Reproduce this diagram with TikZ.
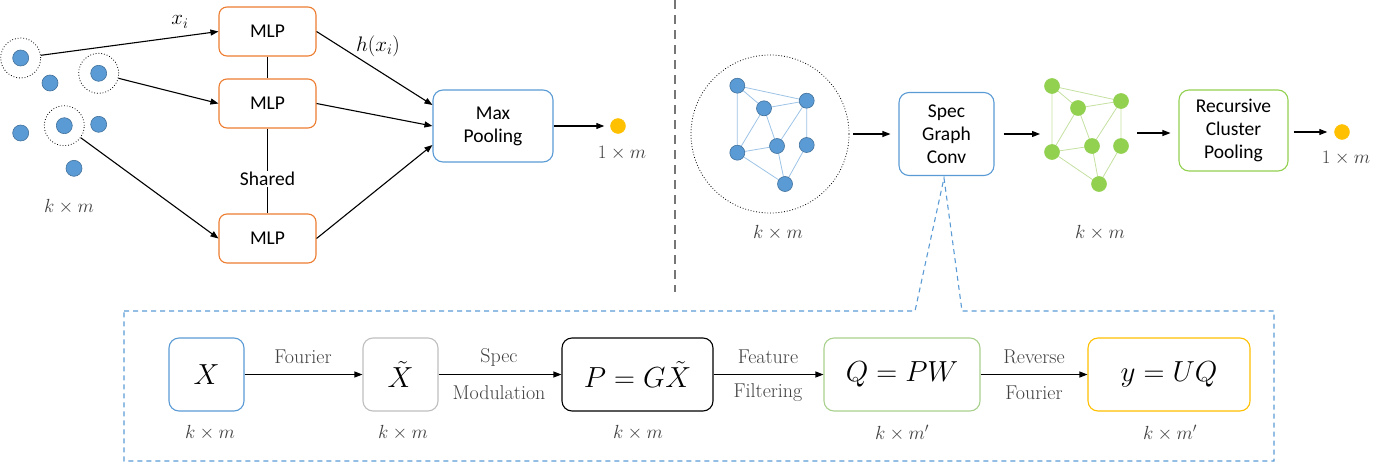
\RequirePackage{fix-cm}
\documentclass[tikz,border=0pt]{standalone}
\usepackage{fontspec}
\setsansfont{Carlito}
\usetikzlibrary{arrows.meta,calc}
\definecolor{cblue}{RGB}{91,155,213}
\definecolor{cblueD}{RGB}{65,113,156}
\definecolor{cblueL}{RGB}{157,195,230}
\definecolor{corange}{RGB}{237,125,49}
\definecolor{cgreen}{RGB}{146,208,80}
\definecolor{cgreenL}{RGB}{169,209,142}
\definecolor{cgreenE}{RGB}{197,224,160}
\definecolor{cyellow}{RGB}{255,192,0}
\definecolor{cgray}{RGB}{191,191,191}
\definecolor{ctext}{RGB}{64,64,64}
\definecolor{cdash}{RGB}{118,118,118}
\begin{document}
\begin{tikzpicture}[x=1pt,y=-1pt,
  arr/.style={-{Triangle[length=8pt,width=6pt]}, line width=1.1pt},
  sans/.style={font=\sffamily\fontsize{19.5}{23}\selectfont},
  mlp/.style={draw=corange, line width=1.1pt, rounded corners=8pt, minimum width=97pt, minimum height=49pt, sans, fill=white},
  bbox/.style={line width=1.1pt, rounded corners=10pt, minimum height=80pt, align=center, sans, fill=white},
  dot/.style={circle, fill=cblue, draw=cblueD, line width=0.6pt, minimum size=16pt, inner sep=0pt},
  gdot/.style={circle, fill=cgreen, draw=cgreen, line width=0.6pt, minimum size=15pt, inner sep=0pt},
  bdot/.style={circle, fill=cblue, draw=cblueD, line width=0.6pt, minimum size=15pt, inner sep=0pt},
  ydot/.style={circle, fill=cyellow, draw=cyellow, minimum size=15pt, inner sep=0pt},
  ring/.style={circle, draw, dotted, line width=0.8pt, minimum size=40pt, inner sep=0pt},
  dim/.style={text=ctext, font=\fontsize{19}{22}\selectfont},
  elab/.style={text=ctext, font=\fontsize{20}{24}\selectfont},
  mbox/.style={line width=1.1pt, rounded corners=10pt, minimum height=73pt, font=\fontsize{29}{34}\selectfont, fill=white},
  bedge/.style={cblueL, line width=0.8pt},
  gedge/.style={cgreenE, line width=0.8pt}
]
\useasboundingbox (0,0) rectangle (1373,463);

% ---------- left: PointNet ----------
\node[dot] (d1) at (20.7,58) {};
\node[ring] (r1) at (20.7,58) {};
\node[dot] (d2) at (50,83) {};
\node[dot] (d3) at (98.7,73.3) {};
\node[ring] (r3) at (98.7,73.3) {};
\node[dot] (d4) at (20.7,133) {};
\node[dot] (d5) at (64.3,125.7) {};
\node[ring] (r5) at (64.3,125.7) {};
\node[dot] (d6) at (98.7,124.3) {};
\node[dot] (d7) at (74,168.3) {};
\node[dim] (lkm1) at (69,207) {$k\times m$};

\node[mlp] (m1) at (267.5,31.5) {MLP};
\node[mlp] (m2) at (267.5,103.5) {MLP};
\node[mlp] (m3) at (267.5,238.5) {MLP};
\node[sans, inner sep=1pt] (sh) at (267.5,179) {Shared};
\draw[line width=1.1pt] (m1.south) -- (m2.north);
\draw[line width=1.1pt] (m2.south) -- (sh.north);
\draw[line width=1.1pt] (sh.south) -- (m3.north);

\draw[arr] (r1) -- (m1.west);
\draw[arr] (r3) -- (m2.west);
\draw[arr] (r5) -- (m3.west);
\node[font=\fontsize{21}{24}\selectfont] (lxi) at (180,22) {$x_i$};

\node[bbox, draw=cblue, minimum width=120pt, minimum height=72pt] (mp) at (493,126) {Max\\Pooling};
\draw[arr] (m1.east) -- ($(mp.west)+(0,-21)$);
\draw[arr] (m2.east) -- (mp.west);
\draw[arr] (m3.east) -- ($(mp.west)+(0,19)$);
\node[font=\fontsize{21}{24}\selectfont] (lhx) at (378,46) {$h(x_i)$};

\node[ydot] (y1) at (618,126) {};
\draw[arr, shorten >=6pt] (mp.east) -- (y1.west);
\node[dim] (l1m1) at (622,153) {$1\times m$};

% ---------- divider ----------
\coordinate (dvt) at (675,0);
\coordinate (dvb) at (675,292);
\draw[cdash, line width=2.5pt, dash pattern=on 9pt off 6pt] (dvt) -- (dvb);

% ---------- right: graph ----------
\node[circle, draw, dotted, line width=0.8pt, minimum size=158pt, inner sep=0pt] (bc) at (770,134) {};
\coordinate (b1) at (737.3,85.7);
\coordinate (b2) at (764,108.3);
\coordinate (b3) at (806.7,100.7);
\coordinate (b4) at (737.3,152.7);
\coordinate (b5) at (777,146);
\coordinate (b6) at (806.7,145);
\coordinate (b7) at (785,184);
\draw[bedge] (b1) -- (b3) (b1) -- (b2) (b1) -- (b4) (b2) -- (b3) (b2) -- (b4) (b2) -- (b5)
  (b3) -- (b5) (b3) -- (b6) (b4) -- (b5) (b4) -- (b7) (b5) -- (b7) (b6) -- (b7);
\foreach \i in {1,...,7} \node[bdot] (bn\i) at (b\i) {};
\node[dim] (lkm2) at (778,233) {$k\times m$};

\node[bbox, draw=cblue, minimum width=95pt, minimum height=83pt] (sgc) at (946.5,134) {Spec\\Graph\\Conv};
\draw[arr, shorten <=4pt, shorten >=8pt] (bc.east) -- (bc.east -| sgc.west);
\coordinate (ga) at (1040,134);
\draw[arr, shorten <=9pt] (sgc.east) -- (ga);

\coordinate (c1) at (1052,86);
\coordinate (c2) at (1078,108);
\coordinate (c3) at (1121,101);
\coordinate (c4) at (1052,152);
\coordinate (c5) at (1092,146);
\coordinate (c6) at (1121,146);
\coordinate (c7) at (1099,184);
\draw[gedge] (c1) -- (c3) (c1) -- (c2) (c1) -- (c4) (c2) -- (c3) (c2) -- (c4) (c2) -- (c5)
  (c3) -- (c5) (c3) -- (c6) (c4) -- (c5) (c4) -- (c7) (c5) -- (c7) (c6) -- (c7);
\foreach \i in {1,...,7} \node[gdot] (gn\i) at (c\i) {};
\node[dim] (lkm3) at (1100,233) {$k\times m$};

\node[bbox, draw=cgreen, minimum width=109pt, minimum height=81pt] (rcp) at (1233.5,130.5) {Recursive\\Cluster\\Pooling};
\coordinate (gb) at (1137,133);
\draw[arr, shorten >=8pt] (gb) -- (gb -| rcp.west);
\node[ydot] (y2) at (1342,132) {};
\draw[arr, shorten <=5pt, shorten >=7pt] (rcp.east |- y2) -- (y2.west);
\node[dim] (l1m2) at (1346,158) {$1\times m$};

% ---------- bottom: callout ----------
\coordinate (ap) at (944,178);
\draw[cblue, line width=1.1pt, dash pattern=on 5pt off 4pt]
  (124,311) -- (915,311) -- (ap) -- (962,311) -- (1274,311) -- (1274,461) -- (124,461) -- cycle;

\node[mbox, draw=cblue, minimum width=75pt] (bx) at (206.5,374.5) {$X$};
\node[mbox, draw=cgray, minimum width=75pt] (bxt) at (400.5,374.5) {$\tilde{X}$};
\node[mbox, draw=black, minimum width=151pt] (bp) at (637.5,374.5) {$P=G\tilde{X}$};
\node[mbox, draw=cgreenL, minimum width=156pt] (bq) at (902,374.5) {$Q=PW$};
\node[mbox, draw=cyellow, minimum width=162pt] (by) at (1169,374.5) {$y=UQ$};

\draw[arr] (bx.east) -- (bxt.west);
\draw[arr] (bxt.east) -- (bp.west);
\draw[arr] (bp.east) -- (bq.west);
\draw[arr] (bq.east) -- (by.west);

\node[elab] (e1) at (303,357) {Fourier};
\node[elab] (e2a) at (499,357) {Spec};
\node[elab] (e2b) at (499,393) {Modulation};
\node[elab] (e3a) at (768,357) {Feature};
\node[elab] (e3b) at (768,393) {Filtering};
\node[elab] (e4a) at (1034,357) {Reverse};
\node[elab] (e4b) at (1034,393) {Fourier};

\node[dim] (k1) at (210,433) {$k\times m$};
\node[dim] (k2) at (403,433) {$k\times m$};
\node[dim] (k3) at (638,433) {$k\times m$};
\node[dim] (k4) at (902,433) {$k\times m'$};
\node[dim] (k5) at (1170,433) {$k\times m'$};
\end{tikzpicture}
\end{document}
